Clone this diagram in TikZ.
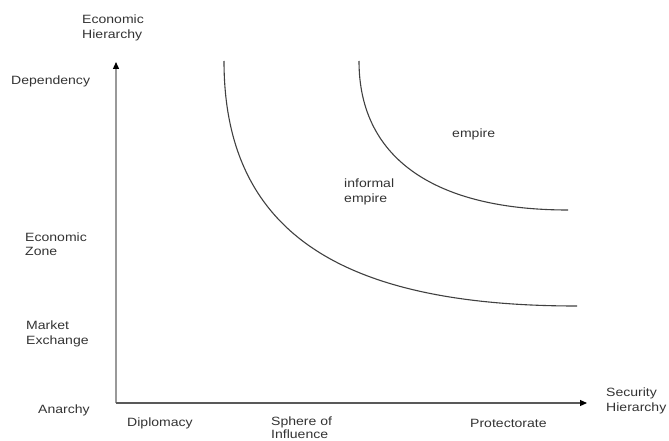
\documentclass[tikz,border=0pt]{standalone}
\usepackage{fontspec}
\setmainfont{Liberation Sans}[FakeStretch=1.17]
\usetikzlibrary{arrows.meta}
\begin{document}
\begin{tikzpicture}[x=1pt,y=-1pt,
  lbl/.style={anchor=west,inner sep=0pt,align=left,font=\fontsize{12}{14.5}\selectfont,text=black!80},
  axisline/.style={line width=1.3pt,-{Triangle[length=7pt,width=6pt,color=black]}},
  curve/.style={line width=1.1pt,draw=black!75}]
\useasboundingbox (0,0) rectangle (669,441);
\coordinate (O) at (116,403);
\coordinate (Ytop) at (116,62);
\coordinate (Xend) at (587,403);
\draw[axisline,draw=black!40] (O) -- (Ytop);
\draw[axisline,draw=black!65,line width=1.1pt] (O) -- (Xend);
\coordinate (a1) at (224,61);
\coordinate (a2) at (577,306);
\coordinate (b1) at (359,61);
\coordinate (b2) at (568,210);
\draw[curve] (a1) .. controls (224,235) and (345,306) .. (a2);
\draw[curve] (b1) .. controls (359,162) and (440,210) .. (b2);
\node[lbl] (eh) at (82,28) {Economic\\Hierarchy};
\node[lbl] (dep) at (11,81) {Dependency};
\node[lbl] (ez) at (25,244) {Economic\\Zone};
\node[lbl] (me) at (26,334) {Market\\Exchange};
\node[lbl] (an) at (38,410) {Anarchy};
\node[lbl] (dip) at (127,423) {Diplomacy};
\node[lbl] (soi) at (271,428) {Sphere of\\[-1.5pt]Influence};
\node[lbl] (pro) at (470,423) {Protectorate};
\node[lbl] (sh) at (606,401) {Security\\Hierarchy};
\node[lbl] (ie) at (344,192) {informal\\empire};
\node[lbl] (emp) at (452,134) {empire};
\end{tikzpicture}
\end{document}
